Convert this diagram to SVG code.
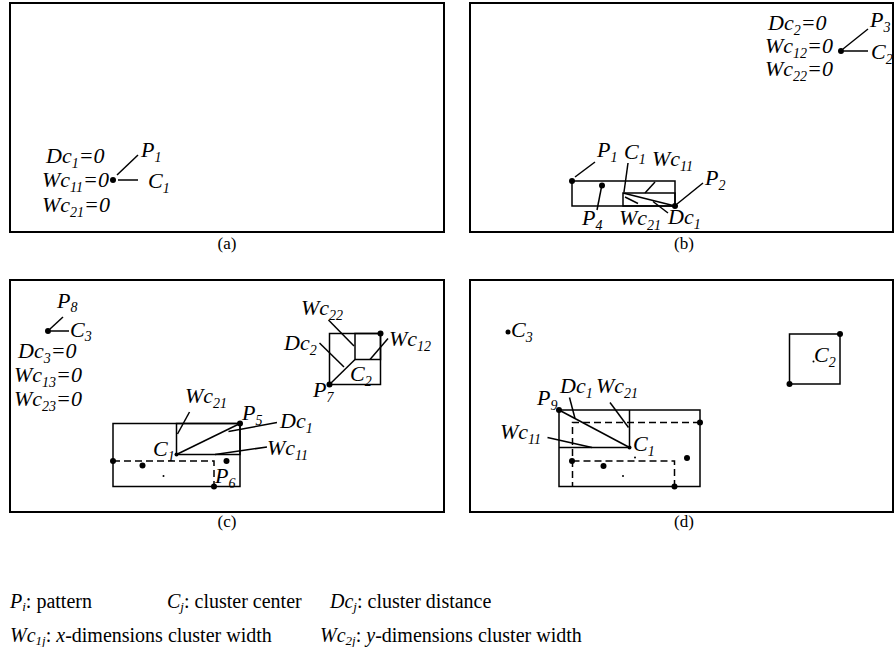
<svg xmlns="http://www.w3.org/2000/svg" width="896" height="647" viewBox="0 0 896 647">
<style>
.frame{fill:none;stroke:#000;stroke-width:2}
.ln{fill:none;stroke:#000;stroke-width:1.5}
.dash{stroke-dasharray:7 4}
.dot{fill:#000}
.lbl{font-family:'Liberation Serif','Times New Roman',serif;font-style:italic;font-size:22px;fill:#000}
.sub{font-size:14px}
.cap{font-family:'Liberation Serif','Times New Roman',serif;font-size:17px;fill:#000}
.leg{font-family:'Liberation Serif','Times New Roman',serif;font-size:20px;fill:#000}
.legsub{font-size:13px;font-style:italic}
.it{font-style:italic}
</style>
<rect width="896" height="647" fill="#fff"/>

<!-- Panel (a) -->
<g id="panel-a">
  <rect class="frame" x="10" y="3" width="434" height="229"/>
  <g id="a-point-p1"><circle class="dot" cx="113" cy="180" r="3"/></g>
  <text class="lbl" x="46" y="163">Dc<tspan class="sub" dy="5">1</tspan><tspan dy="-5">=0</tspan></text>
  <text class="lbl" x="42" y="187">Wc<tspan class="sub" dy="5">11</tspan><tspan dy="-5">=0</tspan></text>
  <text class="lbl" x="42" y="212">Wc<tspan class="sub" dy="5">21</tspan><tspan dy="-5">=0</tspan></text>
  <text class="lbl" x="141" y="157">P<tspan class="sub" dy="5">1</tspan></text>
  <text class="lbl" x="148" y="188">C<tspan class="sub" dy="5">1</tspan></text>
  <text class="cap" x="227" y="249" text-anchor="middle">(a)</text>
</g>

<!-- Panel (b) -->
<g id="panel-b">
  <rect class="frame" x="470" y="3" width="423" height="229"/>
  <g id="b-point-p3"><circle class="dot" cx="841" cy="51" r="3"/></g>
  <text class="lbl" x="768" y="30">Dc<tspan class="sub" dy="5">2</tspan><tspan dy="-5">=0</tspan></text>
  <text class="lbl" x="765" y="53">Wc<tspan class="sub" dy="5">12</tspan><tspan dy="-5">=0</tspan></text>
  <text class="lbl" x="765" y="76">Wc<tspan class="sub" dy="5">22</tspan><tspan dy="-5">=0</tspan></text>
  <text class="lbl" x="870" y="27">P<tspan class="sub" dy="5">3</tspan></text>
  <text class="lbl" x="871" y="59">C<tspan class="sub" dy="5">2</tspan></text>
  <g id="b-cluster-c1">
    <rect class="ln" x="572" y="181" width="103" height="25"/>
    <rect class="ln" x="623" y="193" width="52" height="13"/>
    <line class="ln" x1="623" y1="193" x2="675" y2="206"/>
    <circle class="dot" cx="572" cy="181" r="3"/>
    <circle class="dot" cx="602" cy="185.5" r="3"/>
    <circle class="dot" cx="675" cy="206" r="3"/>
  </g>
  <text class="lbl" x="597" y="157">P<tspan class="sub" dy="5">1</tspan></text>
  <text class="lbl" x="624" y="159">C<tspan class="sub" dy="5">1</tspan></text>
  <text class="lbl" x="652" y="166">Wc<tspan class="sub" dy="5">11</tspan></text>
  <text class="lbl" x="705" y="185">P<tspan class="sub" dy="5">2</tspan></text>
  <text class="lbl" x="668" y="224">Dc<tspan class="sub" dy="5">1</tspan></text>
  <text class="lbl" x="619" y="225">Wc<tspan class="sub" dy="5">21</tspan></text>
  <text class="lbl" x="582" y="225">P<tspan class="sub" dy="5">4</tspan></text>
  <text class="cap" x="684" y="249" text-anchor="middle">(b)</text>
</g>

<!-- Panel (c) -->
<g id="panel-c">
  <rect class="frame" x="10" y="280" width="434" height="232"/>
  <g id="c-point-p8"><circle class="dot" cx="48" cy="331" r="3"/></g>
  <text class="lbl" x="57" y="308">P<tspan class="sub" dy="4">8</tspan></text>
  <text class="lbl" x="70" y="337">C<tspan class="sub" dy="4">3</tspan></text>
  <text class="lbl" x="18" y="358">Dc<tspan class="sub" dy="5">3</tspan><tspan dy="-5">=0</tspan></text>
  <text class="lbl" x="14" y="382">Wc<tspan class="sub" dy="5">13</tspan><tspan dy="-5">=0</tspan></text>
  <text class="lbl" x="14" y="406">Wc<tspan class="sub" dy="5">23</tspan><tspan dy="-5">=0</tspan></text>
  <g id="c-cluster-c2">
    <rect class="ln" x="329.5" y="333.5" width="51" height="51"/>
    <rect class="ln" x="355" y="333.5" width="25.5" height="26"/>
    <line class="ln" x1="329.5" y1="384.5" x2="355" y2="359.5"/>
    <circle class="dot" cx="380.5" cy="333.5" r="3"/>
    <circle class="dot" cx="329.5" cy="384.5" r="3"/>
  </g>
  <text class="lbl" x="301" y="315">Wc<tspan class="sub" dy="5">22</tspan></text>
  <text class="lbl" x="284" y="350">Dc<tspan class="sub" dy="5">2</tspan></text>
  <text class="lbl" x="389" y="346">Wc<tspan class="sub" dy="5">12</tspan></text>
  <text class="lbl" x="350" y="381">C<tspan class="sub" dy="5">2</tspan></text>
  <text class="lbl" x="313" y="397">P<tspan class="sub" dy="5">7</tspan></text>
  <g id="c-cluster-c1">
    <rect class="ln" x="113" y="423.5" width="127" height="63"/>
    <rect class="ln" x="176.5" y="423.5" width="63.5" height="31"/>
    <line class="ln" x1="176.5" y1="454.5" x2="240" y2="423.5"/>
    <path class="ln dash" d="M113 461H214V486.5"/>
    <circle class="dot" cx="240" cy="423.5" r="3"/>
    <circle class="dot" cx="176.5" cy="454.5" r="2"/>
    <circle class="dot" cx="113" cy="461" r="3"/>
    <circle class="dot" cx="214" cy="486.5" r="3"/>
    <circle class="dot" cx="142.5" cy="465.5" r="3"/>
    <circle class="dot" cx="226.5" cy="461" r="3"/>
    <circle class="dot" cx="163.5" cy="476" r="1"/>
  </g>
  <text class="lbl" x="185" y="403">Wc<tspan class="sub" dy="5">21</tspan></text>
  <text class="lbl" x="242" y="420">P<tspan class="sub" dy="5">5</tspan></text>
  <text class="lbl" x="280" y="428">Dc<tspan class="sub" dy="5">1</tspan></text>
  <text class="lbl" x="267" y="455">Wc<tspan class="sub" dy="5">11</tspan></text>
  <text class="lbl" x="153" y="456">C<tspan class="sub" dy="5">1</tspan></text>
  <text class="lbl" x="215" y="483">P<tspan class="sub" dy="5">6</tspan></text>
  <text class="cap" x="227" y="527" text-anchor="middle">(c)</text>
</g>

<!-- Panel (d) -->
<g id="panel-d">
  <rect class="frame" x="470" y="280" width="423" height="232"/>
  <g id="d-point-c3"><circle class="dot" cx="508" cy="332" r="2.5"/></g>
  <text class="lbl" x="511" y="337">C<tspan class="sub" dy="5">3</tspan></text>
  <g id="d-cluster-c2">
    <rect class="ln" x="789.5" y="334" width="50.5" height="50"/>
    <circle class="dot" cx="840" cy="334" r="3"/>
    <circle class="dot" cx="789.5" cy="384" r="3"/>
    <circle class="dot" cx="813.5" cy="361.5" r="1"/>
  </g>
  <text class="lbl" x="814" y="362">C<tspan class="sub" dy="5">2</tspan></text>
  <g id="d-cluster-c1">
    <rect class="ln" x="559" y="410" width="141" height="76.5"/>
    <path class="ln" d="M629.5 410V447.5H559"/>
    <line class="ln" x1="559" y1="410" x2="629.5" y2="447.5"/>
    <path class="ln dash" d="M700 422.5H572.5V486.5"/>
    <path class="ln dash" d="M572.5 461H674.5V486.5"/>
    <circle class="dot" cx="559" cy="410" r="3"/>
    <circle class="dot" cx="629.5" cy="447.5" r="2"/>
    <circle class="dot" cx="700" cy="422.5" r="3"/>
    <circle class="dot" cx="572" cy="461" r="3"/>
    <circle class="dot" cx="674.5" cy="486.5" r="3"/>
    <circle class="dot" cx="603.5" cy="466" r="3"/>
    <circle class="dot" cx="687" cy="458" r="3"/>
    <circle class="dot" cx="635" cy="457.5" r="1"/>
    <circle class="dot" cx="623" cy="476" r="1"/>
  </g>
  <text class="lbl" x="537" y="405">P<tspan class="sub" dy="5">9</tspan></text>
  <text class="lbl" x="560" y="393">Dc<tspan class="sub" dy="5">1</tspan></text>
  <text class="lbl" x="596" y="393">Wc<tspan class="sub" dy="5">21</tspan></text>
  <text class="lbl" x="500" y="439">Wc<tspan class="sub" dy="5">11</tspan></text>
  <text class="lbl" x="633" y="451">C<tspan class="sub" dy="5">1</tspan></text>
  <text class="cap" x="684" y="527" text-anchor="middle">(d)</text>
</g>

<!-- Connectors (leader lines) -->
<g id="connectors" class="ln">
  <line x1="117" y1="175" x2="138" y2="155"/>
  <line x1="118" y1="180" x2="138" y2="180"/>
  <line x1="843" y1="49" x2="868" y2="29"/>
  <line x1="844" y1="51" x2="868" y2="51"/>
  <line x1="575" y1="177" x2="595" y2="162"/>
  <line x1="628" y1="163" x2="624" y2="192"/>
  <line x1="655" y1="182" x2="645" y2="193"/>
  <line x1="677" y1="204" x2="703" y2="183"/>
  <line x1="668" y1="213" x2="653" y2="201.5"/>
  <line x1="625" y1="197" x2="638" y2="203.5"/>
  <line x1="597" y1="210" x2="601.5" y2="187"/>
  <line x1="50" y1="329" x2="63" y2="317"/>
  <line x1="51" y1="331" x2="69" y2="331"/>
  <line x1="328.5" y1="320" x2="354" y2="346"/>
  <line x1="319.5" y1="343" x2="344" y2="367"/>
  <line x1="388" y1="338.5" x2="370" y2="359.5"/>
  <line x1="177.5" y1="434" x2="189.5" y2="412"/>
  <line x1="228.5" y1="431.5" x2="277" y2="422.5"/>
  <line x1="215" y1="454.5" x2="267" y2="447"/>
  <line x1="569.5" y1="397.5" x2="575" y2="418.5"/>
  <line x1="610" y1="402.5" x2="628.5" y2="427.5"/>
  <line x1="547.5" y1="437.5" x2="592" y2="447.5"/>
</g>

<!-- Legend -->
<g id="legend">
  <text class="leg" x="10" y="608"><tspan class="it">P</tspan><tspan class="legsub" dy="3">i</tspan><tspan dy="-3">: pattern</tspan></text>
  <text class="leg" x="167" y="608"><tspan class="it">C</tspan><tspan class="legsub" dy="3">j</tspan><tspan dy="-3">: cluster center</tspan></text>
  <text class="leg" x="330" y="608"><tspan class="it">Dc</tspan><tspan class="legsub" dy="3">j</tspan><tspan dy="-3">: cluster distance</tspan></text>
  <text class="leg" x="10" y="642"><tspan class="it">Wc</tspan><tspan class="legsub" dy="3">1j</tspan><tspan dy="-3">: </tspan><tspan class="it">x</tspan><tspan>-dimensions cluster width</tspan></text>
  <text class="leg" x="320" y="642"><tspan class="it">Wc</tspan><tspan class="legsub" dy="3">2j</tspan><tspan dy="-3">: </tspan><tspan class="it">y</tspan><tspan>-dimensions cluster width</tspan></text>
</g>
</svg>
